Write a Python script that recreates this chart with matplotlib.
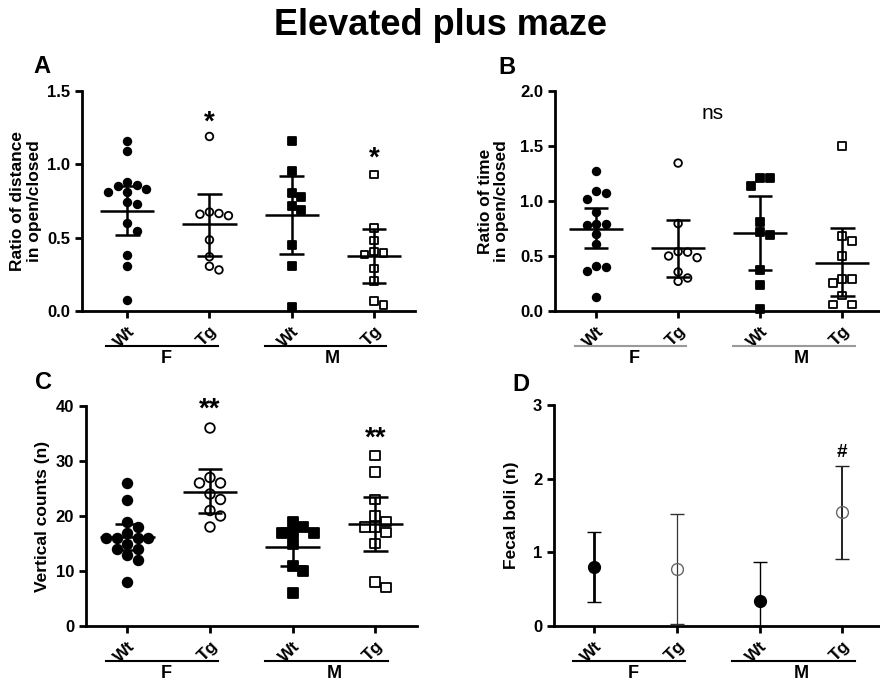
import numpy as np
import matplotlib
matplotlib.use("Agg")
import matplotlib.pyplot as plt

plt.rcParams['font.family'] = ['Liberation Sans', 'DejaVu Sans']
plt.rcParams['font.weight'] = 'bold'
plt.rcParams['axes.labelweight'] = 'bold'

genotypes = ["Wt", "Tg", "Wt", "Tg"]
sexes = ["F", "M"]

# A: ratio of distance in open/closed arms
dist_wt_f = [1.16, 1.09, 0.88, 0.86, 0.85, 0.835, 0.81, 0.81, 0.74, 0.73, 0.60, 0.545, 0.38, 0.31, 0.077]
dist_tg_f = [1.19, 0.675, 0.665, 0.66, 0.65, 0.485, 0.37, 0.305, 0.28]
dist_wt_m = [1.16, 0.955, 0.805, 0.775, 0.715, 0.69, 0.45, 0.31, 0.025]
dist_tg_m = [0.93, 0.565, 0.48, 0.405, 0.395, 0.385, 0.29, 0.205, 0.068, 0.04]
dist_mean = [0.685, 0.59, 0.655, 0.375]
dist_lo = [0.52, 0.373, 0.391, 0.191]
dist_hi = [0.85, 0.795, 0.918, 0.557]

# B: ratio of time in open/closed arms
time_wt_f = [1.27, 1.09, 1.07, 1.02, 0.90, 0.79, 0.79, 0.78, 0.70, 0.61, 0.41, 0.40, 0.36, 0.13]
time_tg_f = [1.345, 0.795, 0.54, 0.535, 0.50, 0.485, 0.355, 0.30, 0.27]
time_wt_m = [1.21, 1.21, 1.14, 0.81, 0.72, 0.69, 0.375, 0.235, 0.02]
time_tg_m = [1.50, 0.68, 0.635, 0.50, 0.29, 0.29, 0.255, 0.14, 0.06, 0.06]
time_mean = [0.75, 0.57, 0.71, 0.44]
time_lo = [0.576, 0.309, 0.376, 0.133]
time_hi = [0.936, 0.824, 1.042, 0.755]

# C: vertical counts
vert_wt_f = [26, 23, 19, 18, 17, 16, 16, 16, 16, 15, 14, 14, 13, 12, 8]
vert_tg_f = [36, 27, 26, 26, 24, 23, 21, 20, 18]
vert_wt_m = [19, 18, 17, 17, 17, 15, 11, 10, 6]
vert_tg_m = [31, 28, 23, 20, 19, 18, 18, 17, 15, 8, 7]
vert_mean = [16.2, 24.4, 14.4, 18.5]
vert_lo = [13.8, 20.5, 11.0, 13.6]
vert_hi = [18.5, 28.5, 17.8, 23.4]

# D: fecal boli
fecal_mean = [0.80, 0.78, 0.34, 1.545]
fecal_lo = [0.326, 0.032, 0.0, 0.915]
fecal_hi = [1.278, 1.523, 0.87, 2.17]

fig = plt.figure(figsize=(8.8, 6.81), dpi=100)


def px_box(l, t, r, b):
    return [l / 880, 1 - b / 681, (r - l) / 880, (b - t) / 681]


axA = fig.add_axes(px_box(82, 91, 415, 311))
axB = fig.add_axes(px_box(555, 91, 880, 311))
axC = fig.add_axes(px_box(86, 406, 417, 626))
axD = fig.add_axes(px_box(554, 405, 880, 626))


def style(ax, xlim, ylim, yticks, ylabel, labelpad, group_color):
    ax.set_xlim(xlim)
    ax.set_ylim(ylim)
    ax.set_yticks(yticks)
    ax.set_xticks([1, 2, 3, 4])
    ax.set_xticklabels(genotypes, rotation=45, ha='right', va='top',
                       rotation_mode='anchor', fontsize=12.5)
    for s in ['top', 'right']:
        ax.spines[s].set_visible(False)
    for s in ['left', 'bottom']:
        ax.spines[s].set_linewidth(2)
    ax.tick_params(width=2, length=5, labelsize=12)
    ax.tick_params(axis='x', labelsize=12.5, pad=4)
    ax.set_ylabel(ylabel, fontsize=12.5, labelpad=labelpad, linespacing=1.1)
    tr = ax.get_xaxis_transform()
    spans = [(0.74, 2.1), (2.67, 4.15)]
    label_x = [1.47, 3.5]
    for (x0, x1), xs, s in zip(spans, label_x, sexes):
        ax.plot([x0, x1], [-0.16, -0.16], transform=tr, clip_on=False,
                color=group_color, lw=1.5)
        ax.text(xs, -0.215, s, transform=tr, ha='center', va='center',
                fontsize=13, fontweight='bold')


def swarm(ax, xc, values, diam):
    pts = ax.transData.transform(np.column_stack([np.full(len(values), xc), values]))
    placed = []
    for px, py in pts:
        for k in [0, 1, -1, 2, -2, 3, -3, 4, -4, 5, -5]:
            cx = px + k * diam
            if all((cx - qx) ** 2 + (py - qy) ** 2 >= (diam * 0.98) ** 2 for qx, qy in placed):
                break
        placed.append((cx, py))
    return ax.transData.inverted().transform(np.array(placed))[:, 0]


def dot_panel(ax, groups, mean, lo, hi, diam_px, ms):
    markers = [('o', 'black'), ('o', 'none'), ('s', 'black'), ('s', 'none')]
    for i, vals in enumerate(groups):
        xs = swarm(ax, i + 1, vals, diam_px)
        m, fc = markers[i]
        ax.scatter(xs, vals, s=ms, marker=m, facecolors=fc, edgecolors='black',
                   linewidths=1.3, zorder=3, clip_on=False)
    x = np.arange(1, 5)
    ax.hlines(mean, x - 0.33, x + 0.33, color='black', lw=1.8, zorder=2)
    ax.vlines(x, lo, hi, color='black', lw=1.8, zorder=2)
    ax.hlines(lo, x - 0.15, x + 0.15, color='black', lw=1.8, zorder=2)
    ax.hlines(hi, x - 0.15, x + 0.15, color='black', lw=1.8, zorder=2)


style(axA, (0.45, 4.5), (0, 1.5), [0, 0.5, 1.0, 1.5],
      "Ratio of distance\nin open/closed", 4, 'black')
dot_panel(axA, [dist_wt_f, dist_tg_f, dist_wt_m, dist_tg_m],
          dist_mean, dist_lo, dist_hi, 9.5, 30)
axA.text(2, 1.24, '*', ha='center', va='baseline', fontsize=20, fontweight='bold')
axA.text(4, 0.99, '*', ha='center', va='baseline', fontsize=20, fontweight='bold')

style(axB, (0.5, 4.46), (0, 2.0), [0, 0.5, 1.0, 1.5, 2.0],
      "Ratio of time\nin open/closed", 8, '#999999')
dot_panel(axB, [time_wt_f, time_tg_f, time_wt_m, time_tg_m],
          time_mean, time_lo, time_hi, 9.5, 30)
axB.text(2.42, 1.743, 'ns', ha='center', va='baseline', fontsize=15, fontweight='normal')

style(axC, (0.5, 4.505), (0, 40), [0, 10, 20, 30, 40],
      "Vertical counts (n)", 4, 'black')
dot_panel(axC, [vert_wt_f, vert_tg_f, vert_wt_m, vert_tg_m],
          vert_mean, vert_lo, vert_hi, 10.5, 48)
axC.text(2, 38.0, '**', ha='center', va='baseline', fontsize=20, fontweight='bold', clip_on=False)
axC.text(4, 32.85, '**', ha='center', va='baseline', fontsize=20, fontweight='bold')

style(axD, (0.51, 4.456), (0, 3), [0, 1, 2, 3], "Fecal boli (n)", 10, 'black')
d_face = ['black', 'none', 'black', 'none']
d_edge = ['black', '#666666', 'black', '#666666']
d_lw = [2.0, 0.9, 1.0, 1.4]
d_ecol = ['black', '#333333', 'black', '#222222']
for i in range(4):
    axD.errorbar(i + 1, fecal_mean[i],
                 yerr=[[fecal_mean[i] - fecal_lo[i]], [fecal_hi[i] - fecal_mean[i]]],
                 fmt='o', ms=8.5, mfc=d_face[i], mec=d_edge[i], mew=1.0,
                 ecolor=d_ecol[i], elinewidth=d_lw[i], capsize=5, capthick=d_lw[i],
                 zorder=3, clip_on=False)
axD.text(4, 2.296, '#', ha='center', va='baseline', fontsize=13.5, fontweight='bold')

fig.text(0.5, 1 - 35 / 681, "Elevated plus maze", ha='center', va='baseline',
         fontsize=26, fontweight='bold')
for letter, x, y in [('A', 33, 73), ('B', 498, 74), ('C', 35, 389), ('D', 512, 391)]:
    fig.text(x / 880, 1 - y / 681, letter, ha='left', va='baseline',
             fontsize=17, fontweight='bold')

fig.savefig("out.png", dpi=100)
